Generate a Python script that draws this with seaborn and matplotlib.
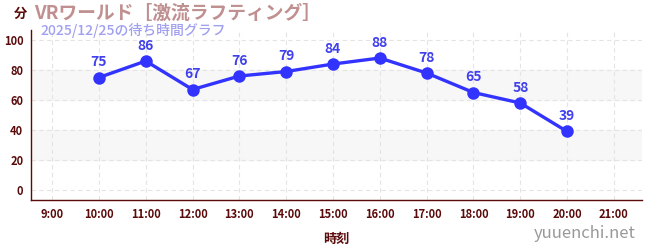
import matplotlib
matplotlib.use("Agg")
import matplotlib.pyplot as plt
import seaborn as sns
import pandas as pd
from matplotlib.ticker import MultipleLocator, FixedLocator

hours = [10, 11, 12, 13, 14, 15, 16, 17, 18, 19, 20]
waits = [75, 86, 67, 76, 79, 84, 88, 78, 65, 58, 39]
tick_hours = list(range(9, 22))
tick_labels = [f"{h}:00" for h in tick_hours]
title = "VRワールド［激流ラフティング］"
subtitle = "2025/12/25の待ち時間グラフ"

sns.set_theme(style="white")
plt.rcParams['font.family'] = ['Noto Sans CJK JP', 'DejaVu Sans']

df = pd.DataFrame({"hour": hours, "wait": waits})

fig = plt.figure(figsize=(6.5, 2.5), dpi=100)
ax = fig.add_axes([31/650, 50/250, (642-31)/650, 170/250])

dark = "#5a0a0a"
blue = "#3333ff"

ax.axhspan(20, 40, color="#f7f7f7", zorder=0)
ax.axhspan(60, 80, color="#f7f7f7", zorder=0)
for y in range(0, 101, 20):
    ax.axhline(y, color="#e4e4e4", lw=0.8, ls=(0, (4, 3)), zorder=0.5)
for x in tick_hours:
    ax.axvline(x, color="#e4e4e4", lw=0.8, ls=(0, (4, 3)), zorder=0.5)

sns.lineplot(data=df, x="hour", y="wait", ax=ax, color=blue, lw=2.4,
             marker="o", markersize=9, markeredgewidth=0, zorder=3)
for h, w in zip(hours, waits):
    ax.annotate(str(w), (h, w), xytext=(0, 6), textcoords="offset points",
                ha="center", va="bottom", color="#4040ee", fontsize=10, fontweight="bold")

ax.set_xlim(8.55, 21.6)
ax.set_ylim(-6.7, 106.7)
ax.xaxis.set_major_locator(FixedLocator(tick_hours))
ax.set_xticklabels(tick_labels)
ax.yaxis.set_major_locator(MultipleLocator(20))
ax.yaxis.set_minor_locator(MultipleLocator(10))
ax.tick_params(axis="both", which="major", colors=dark, labelsize=8, length=4, width=0.8, direction="inout")
ax.tick_params(axis="x", which="major", color="#aaaaaa")
ax.tick_params(axis="y", which="minor", color="#dd2222", length=3, width=0.8)
for lab in ax.get_xticklabels() + ax.get_yticklabels():
    lab.set_fontweight("bold")
ax.set_xlabel("時刻", color=dark, fontsize=9.5, fontweight="bold", labelpad=8)
ax.set_ylabel("")
for s in ["top", "right"]:
    ax.spines[s].set_visible(False)
ax.spines["left"].set_color(dark)
ax.spines["bottom"].set_color(dark)
ax.spines["left"].set_linewidth(1)
ax.spines["bottom"].set_linewidth(1)

fig.text(14/650, 1-14/250, "分", color=dark, fontsize=9.5, fontweight="bold", va="center")
fig.text(34/650, 1-13/250, title, color="#c09090", fontsize=13.5, fontweight="bold", va="center")
fig.text(40/650, 1-31/250, subtitle, color="#a0a0f0", fontsize=10, fontweight="medium", va="center")
fig.text(636/650, 1-234/250, "yuuenchi.net", color="#999999", fontsize=12, ha="right", va="center")

fig.savefig("out.png", dpi=100)
